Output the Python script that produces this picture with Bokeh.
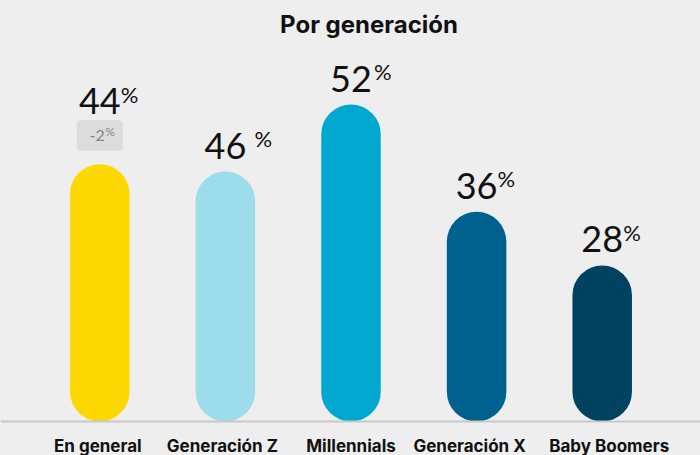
from bokeh.plotting import figure
from bokeh.models import Range1d, Span, Label
from bokeh.core.properties import value
from bokeh.embed import file_html
from bokeh.resources import INLINE

# ---------------- data ----------------
title_text = "Por generación"
categories = ["En general", "Generación Z", "Millennials", "Generación X", "Baby Boomers"]
values = [44, 46, 52, 36, 28]
# drawn bar lengths (in % units)
bar_lengths = [42.2, 41.0, 52.0, 34.4, 25.6]
changes = ["-2", None, None, None, None]
colors = ["#FDD800", "#9DDCEB", "#00A8CF", "#00608E", "#00425F"]

# ---------------- layout ----------------
W, H = 700, 455
PX_Y = 6.096          # pixels per % unit
PX_X = 125.6          # pixels per category step
BASE_PX = 34          # baseline distance from bottom (px)
X0_PX = 99.3          # first bar center from left (px)
K = 0.36              # baseline correction factor (fraction of font size)

y_start = -BASE_PX / PX_Y
y_end = y_start + H / PX_Y
x_start = -X0_PX / PX_X
x_end = x_start + W / PX_X

def fy(px_from_top):
    return y_end - px_from_top / PX_Y

def fx(px_from_left):
    return x_start + px_from_left / PX_X

NUMFONT = value("Lato")
LABFONT = value("Inter")
BG = "#eeeeee"

p = figure(width=W, height=H, output_backend="svg", toolbar_location=None,
           x_range=Range1d(x_start, x_end), y_range=Range1d(y_start, y_end),
           x_axis_location=None, y_axis_location=None, min_border=0)
p.background_fill_color = BG
p.border_fill_color = BG
p.outline_line_color = None
p.xgrid.visible = False
p.ygrid.visible = False

xs = list(range(len(categories)))

# baseline
p.add_layout(Span(location=0, dimension="width", line_color="#c8c8c8", line_width=2))

# pill bars: segment with round caps
BAR_W = 59.5
r = (BAR_W / 2) / PX_Y
p.segment(x0=xs, y0=[r] * len(xs), x1=xs, y1=[L - r for L in bar_lengths],
          line_color=colors, line_width=BAR_W, line_cap="round")

# change badge
bx = [x for x, c in zip(xs, changes) if c]
by = [L + 28.7 / PX_Y for L, c in zip(bar_lengths, changes) if c]
bt = [c for c in changes if c]
p.rect(x=bx, y=by, width=46, height=30.5, width_units="screen", height_units="screen",
       fill_color="#dcdcdc", line_color=None, border_radius=4)
p.text(x=bx, y=by, text=bt, text_font=NUMFONT, text_font_size="16px", text_color="#858585",
       text_align="right", text_baseline="alphabetic", x_offset=5, y_offset=5.7 - K * 16)
p.text(x=bx, y=by, text=["%"] * len(bx), text_font=NUMFONT, text_font_size="12px", text_color="#858585",
       text_align="left", text_baseline="alphabetic", x_offset=5.5, y_offset=0.4 - K * 12)

# value labels
num_gap = [-50 if c else -13 for c in changes]
pct_dx = [21, 29, 23, 21, 21]
p.text(x=xs, y=bar_lengths, text=[str(v) for v in values], text_font=NUMFONT,
       text_font_size="36px", text_color="#111111", text_align="center",
       text_baseline="alphabetic", y_offset=[g - K * 36 for g in num_gap])
p.text(x=xs, y=bar_lengths, text=["%"] * len(xs), text_font=NUMFONT,
       text_font_size="22px", text_color="#111111", text_align="left",
       text_baseline="alphabetic", x_offset=pct_dx, y_offset=[g - 12 - K * 22 for g in num_gap])

# category labels
label_dx = [-2, -3, 0, -7, 7]
p.text(x=xs, y=[fy(452 - K * 17)] * len(xs), text=categories, text_font=LABFONT,
       text_font_size="17px", text_font_style="bold", text_color="#111111",
       text_align="center", text_baseline="alphabetic", x_offset=label_dx)

# title
p.add_layout(Label(x=fx(368.5), y=fy(33 - K * 24), text=title_text, text_font="Inter",
                   text_font_size="24px", text_font_style="bold", text_color="#111111",
                   text_align="center", text_baseline="alphabetic"))

tmpl = "{% block preamble %}<style>html, body { background: #eeeeee; }</style>{% endblock %}"
open("out.html", "w").write(file_html(p, INLINE, template=tmpl))
